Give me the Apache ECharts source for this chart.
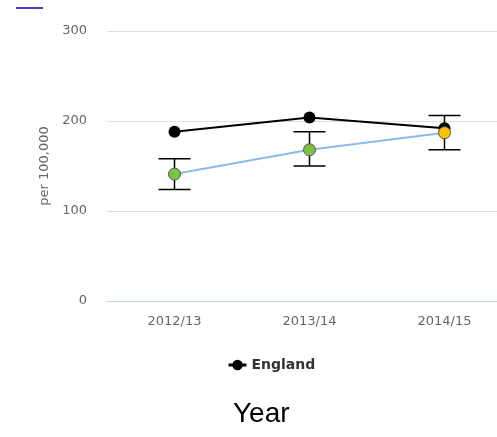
<!DOCTYPE html>
<html>
<head>
<meta charset="utf-8">
<script src="https://cdn.jsdelivr.net/npm/echarts@6/dist/echarts.min.js"></script>
<style>
  html, body { margin: 0; padding: 0; background: #fff; }
  #main { width: 497px; height: 437px; }
</style>
</head>
<body>
<div id="main"></div>
<script>
var years = ['2012/13', '2013/14', '2014/15'];
var england = [188, 204, 192];
var area = [141, 168, 187];
var areaLow = [124, 150, 168];
var areaHigh = [158, 188, 206];
var areaColours = ['#7dc242', '#7dc242', '#ffc000'];
var yTicks = [0, 100, 200, 300];

var myChart = echarts.init(document.getElementById('main'));

var errorData = years.map(function (y, i) {
    return [i, areaLow[i], areaHigh[i]];
});

option = {
    backgroundColor: '#fff',
    animation: false,
    grid: { left: 107, top: 31, width: 405, height: 270, outerBoundsMode: 'none' },
    legend: {
        data: ['England'],
        top: 353,
        left: 222,
        itemWidth: 18,
        itemHeight: 13,
        itemGap: 8,
        lineStyle: { width: 3 },
        textStyle: { fontFamily: 'DejaVu Sans', fontWeight: 'bold', fontSize: 14, color: '#333' }
    },
    graphic: [
        { type: 'line', shape: { x1: 16, y1: 8, x2: 43, y2: 8 }, style: { stroke: '#5533cc', lineWidth: 2 } },
        { type: 'text', left: 233, top: 400, style: { text: 'Year', fontSize: 28, fontFamily: 'Liberation Sans', fill: '#000' } }
    ],
    xAxis: {
        type: 'category',
        data: years,
        axisLine: { lineStyle: { color: '#c4d8ec' } },
        axisTick: { alignWithLabel: true, length: 4, lineStyle: { color: '#c4d8ec' } },
        axisLabel: { color: '#666', fontSize: 13, letterSpacing: 1, fontFamily: 'DejaVu Sans', margin: 14 },
        z: 5
    },
    yAxis: {
        type: 'value',
        min: yTicks[0],
        max: yTicks[yTicks.length - 1],
        interval: 100,
        name: 'per 100,000',
        nameLocation: 'middle',
        nameGap: 56,
        nameTextStyle: { color: '#666', fontSize: 13, letterSpacing: 1, fontFamily: 'DejaVu Sans' },
        axisLine: { show: false },
        axisTick: { show: false },
        axisLabel: { color: '#666', fontSize: 13, fontFamily: 'DejaVu Sans', margin: 20 },
        splitLine: { showMinLine: false, lineStyle: { color: '#e0e0e0' } }
    },
    series: [
        {
            name: 'England',
            type: 'line',
            data: england,
            symbol: 'circle',
            symbolSize: 12,
            itemStyle: { color: '#000' },
            lineStyle: { color: '#000', width: 2 },
            z: 2
        },
        {
            name: 'errors',
            type: 'custom',
            data: errorData,
            z: 3,
            renderItem: function (params, api) {
                var x = api.value(0);
                var lo = api.coord([x, api.value(1)]);
                var hi = api.coord([x, api.value(2)]);
                var half = 16;
                var st = { stroke: '#000', lineWidth: 1.5 };
                return {
                    type: 'group',
                    children: [
                        { type: 'line', shape: { x1: lo[0], y1: lo[1], x2: hi[0], y2: hi[1] }, style: st },
                        { type: 'line', shape: { x1: lo[0] - half, y1: lo[1], x2: lo[0] + half, y2: lo[1] }, style: st },
                        { type: 'line', shape: { x1: hi[0] - half, y1: hi[1], x2: hi[0] + half, y2: hi[1] }, style: st }
                    ]
                };
            }
        },
        {
            name: 'Area',
            type: 'line',
            data: area.map(function (v, i) {
                return { value: v, itemStyle: { color: areaColours[i] } };
            }),
            symbol: 'circle',
            symbolSize: 12,
            itemStyle: { borderColor: '#555', borderWidth: 1 },
            lineStyle: { color: '#88bbea', width: 2 },
            z: 4
        }
    ]
};

myChart.setOption(option);
</script>
</body>
</html>
